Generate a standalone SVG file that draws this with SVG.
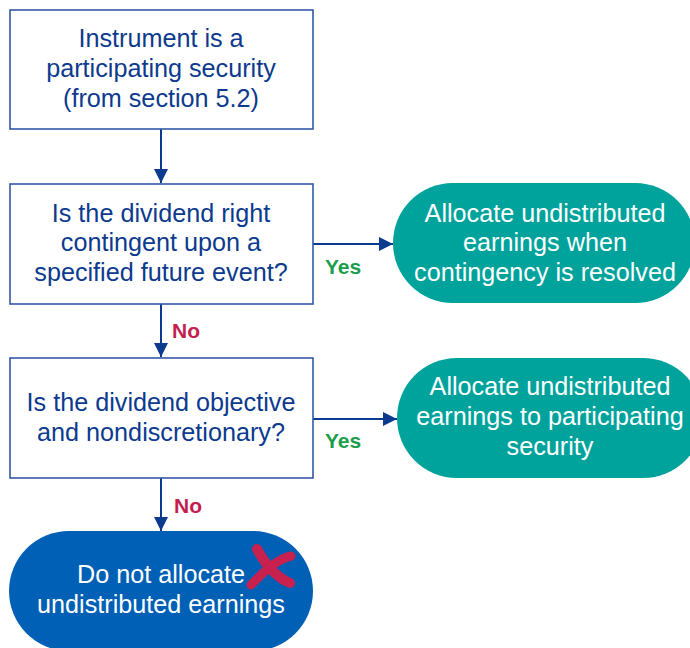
<svg xmlns="http://www.w3.org/2000/svg" width="690" height="648" viewBox="0 0 690 648">
<style>
.box{fill:#fff;stroke:#3458A8;stroke-width:1.6}
.t{font-family:"Liberation Sans",Arial,sans-serif;font-size:25.2px;text-anchor:middle}
.bt{fill:#0C3A8E}
.wt{fill:#fff}
.teal{fill:#00A39C}
.blue{fill:#0060B5}
.ln{stroke:#0C3A8E;stroke-width:2;fill:none}
.lab{font-family:"Liberation Sans",Arial,sans-serif;font-size:21px;font-weight:bold}
.yes{fill:#1B9E4B}
.no{fill:#C41E4E}
</style>
<defs>
<marker id="ah" viewBox="0 0 14 14" refX="14" refY="7" markerWidth="14" markerHeight="14" markerUnits="userSpaceOnUse" orient="auto">
<path d="M0,0 L14,7 L0,14 Z" fill="#0C3A8E"/>
</marker>
</defs>
<g id="connectors">
<line class="ln" x1="161" y1="129" x2="161" y2="183" marker-end="url(#ah)"/>
<line class="ln" x1="161" y1="304" x2="161" y2="357" marker-end="url(#ah)"/>
<line class="ln" x1="161" y1="478" x2="161" y2="531" marker-end="url(#ah)"/>
<line class="ln" x1="313" y1="244" x2="393" y2="244" marker-end="url(#ah)"/>
<line class="ln" x1="313" y1="419" x2="397" y2="419" marker-end="url(#ah)"/>
<text class="lab yes" x="325" y="274">Yes</text>
<text class="lab yes" x="325" y="448">Yes</text>
<text class="lab no" x="172" y="338">No</text>
<text class="lab no" x="174" y="513">No</text>
</g>
<g id="n1">
<rect class="box" x="10" y="10" width="303" height="119"/>
<text class="t bt" x="161" y="47">Instrument is a</text>
<text class="t bt" x="161" y="77">participating security</text>
<text class="t bt" x="161" y="107">(from section 5.2)</text>
</g>
<g id="n2">
<rect class="box" x="10" y="184" width="303" height="120"/>
<text class="t bt" x="161" y="222">Is the dividend right</text>
<text class="t bt" x="161" y="251">contingent upon a</text>
<text class="t bt" x="161" y="281">specified future event?</text>
</g>
<g id="n3">
<rect class="box" x="10" y="358" width="303" height="120"/>
<text class="t bt" x="161" y="411">Is the dividend objective</text>
<text class="t bt" x="161" y="441">and nondiscretionary?</text>
</g>
<g id="n4">
<rect class="teal" x="393" y="183" width="302" height="120" rx="60" ry="60"/>
<text class="t wt" x="545" y="222">Allocate undistributed</text>
<text class="t wt" x="545" y="251">earnings when</text>
<text class="t wt" x="545" y="281">contingency is resolved</text>
</g>
<g id="n5">
<rect class="teal" x="397" y="358" width="306" height="120" rx="60" ry="60"/>
<text class="t wt" x="550" y="395">Allocate undistributed</text>
<text class="t wt" x="550" y="425">earnings to participating</text>
<text class="t wt" x="550" y="455">security</text>
</g>
<g id="n6">
<rect class="blue" x="9" y="531" width="304" height="120" rx="60" ry="60"/>
<text class="t wt" x="161" y="583">Do not allocate</text>
<text class="t wt" x="161" y="613">undistributed earnings</text>
<path d="M257,549 C263,560 273,576 290,583" stroke="#C8204F" stroke-width="10" stroke-linecap="round" fill="none"/>
<path d="M291,556 C277,559 263,572 251,585" stroke="#C8204F" stroke-width="9" stroke-linecap="round" fill="none"/>
</g>
</svg>
